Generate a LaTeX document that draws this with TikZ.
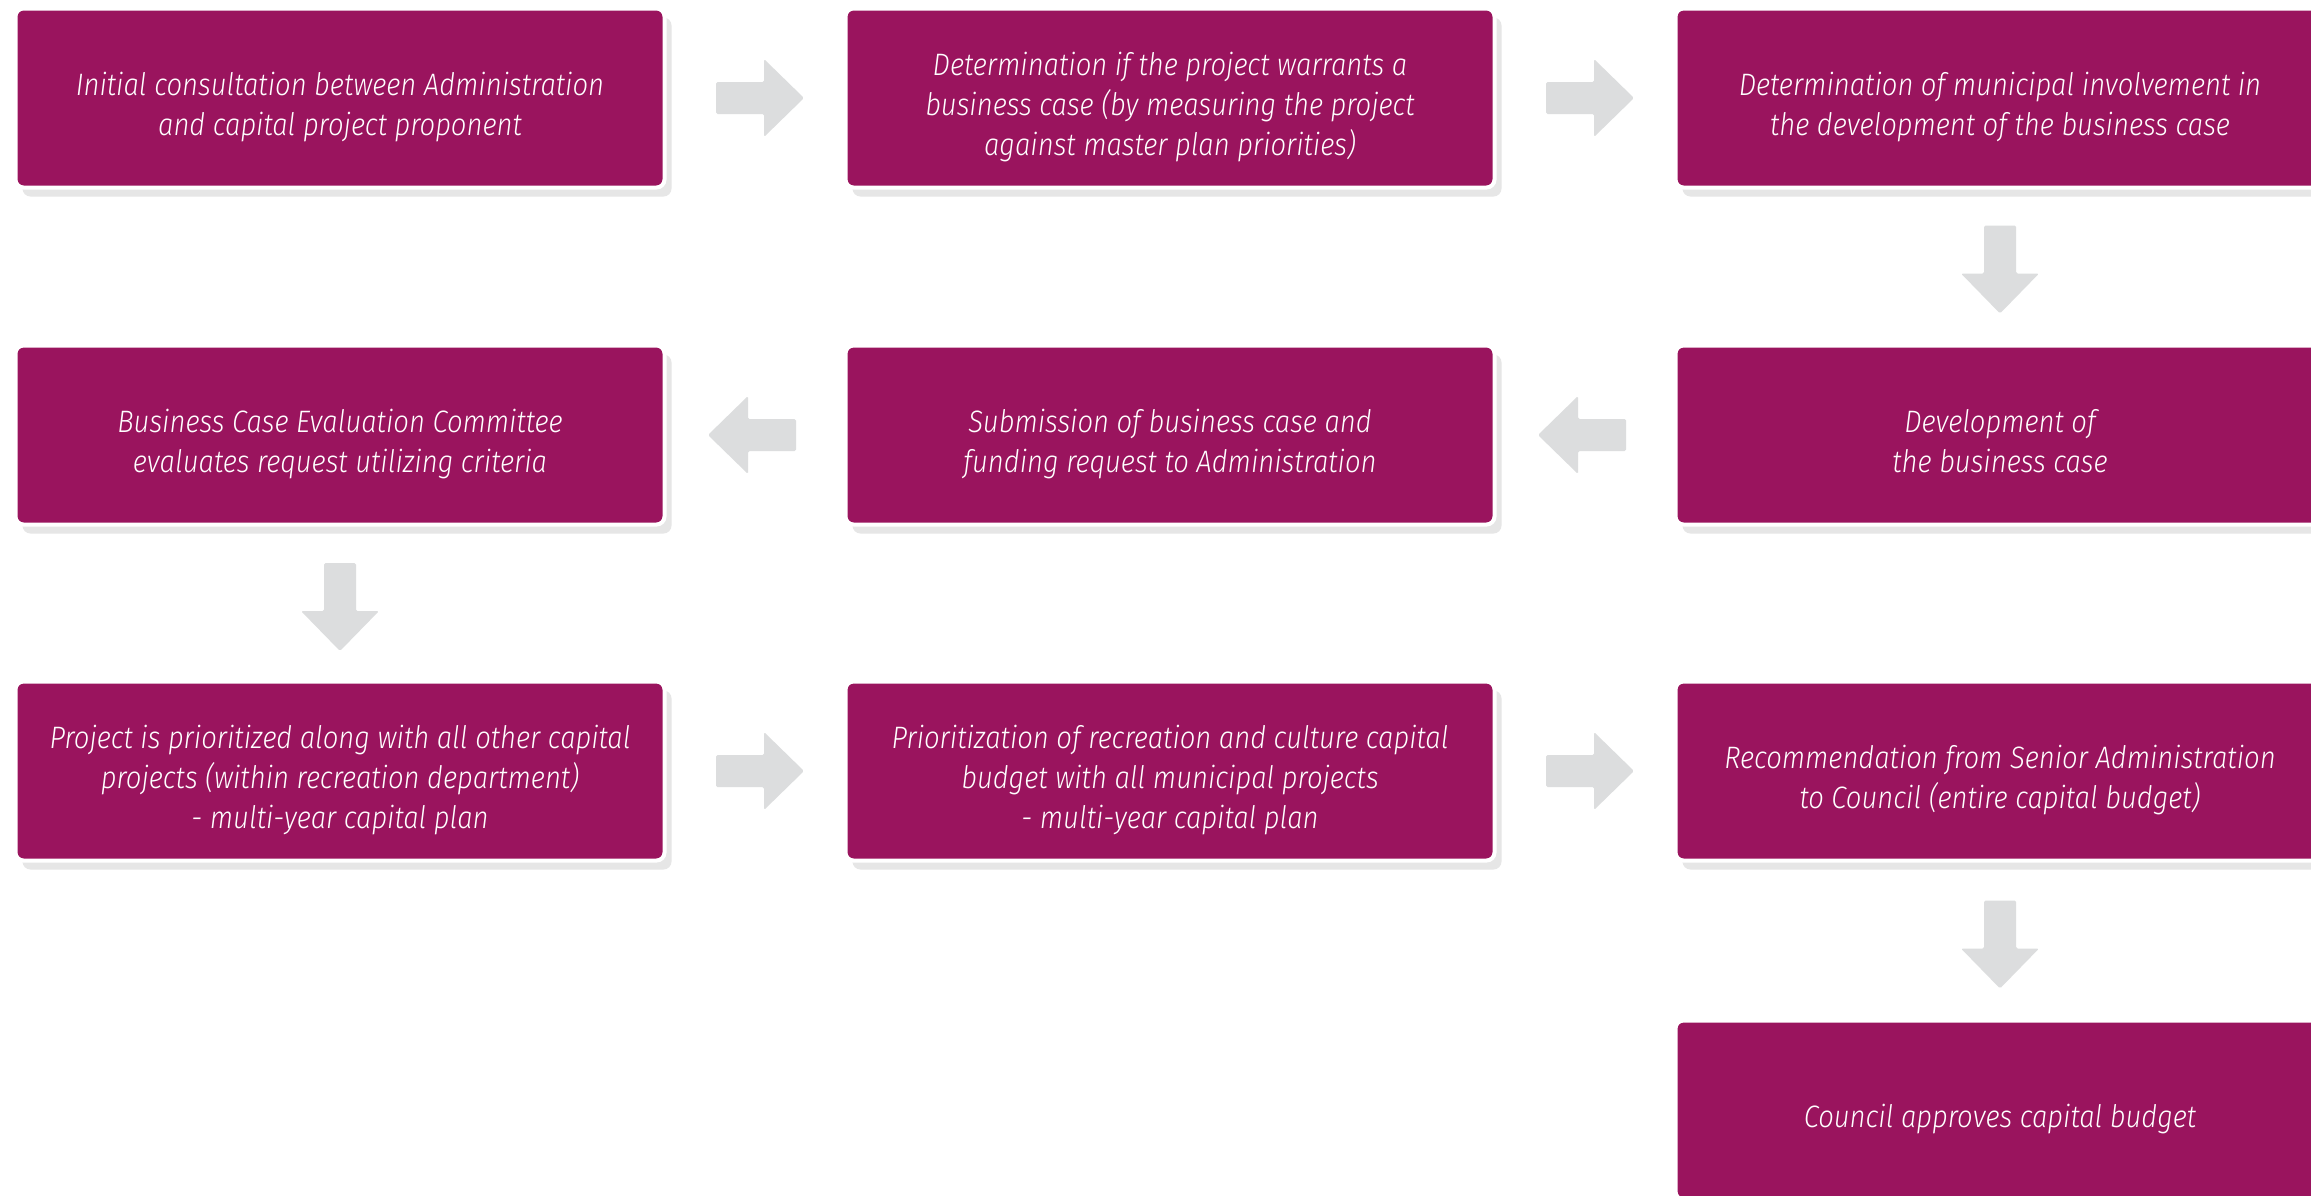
\documentclass[tikz,border=0pt]{standalone}
\usepackage{fontspec}
\setmainfont{Fira Sans}[UprightFont={* Light}, ItalicFont={* Light Italic}, FakeStretch=0.885]
\usetikzlibrary{calc,shadows}
\definecolor{boxpurple}{HTML}{9A145E}
\definecolor{arrowgray}{HTML}{DCDDDE}
\definecolor{shadowgray}{HTML}{E6E6E6}
\newcommand\boxtext[1]{\raisebox{-9pt}[\height][\depth]{\begin{tabular}{@{}c@{}}#1\end{tabular}}}
\tikzset{
  stepbox/.style={rectangle, rounded corners=8pt, fill=boxpurple, draw=white,
    line width=4pt, minimum width=649pt, minimum height=179pt, inner sep=0pt,
    text=white, font=\fontsize{31}{40}\selectfont\itshape,
    general shadow={fill=shadowgray, shadow xshift=7pt, shadow yshift=-9pt}},
  arrowright/.pic={\fill[arrowgray, rounded corners=1.5pt] (-44,-16) -- (4,-16) -- (4,-39) -- (44,0) -- (4,39) -- (4,16) -- (-44,16) -- cycle;},
  arrowleft/.pic={\fill[arrowgray, rounded corners=1.5pt] (44,-16) -- (-4,-16) -- (-4,-39) -- (-44,0) -- (-4,39) -- (-4,16) -- (44,16) -- cycle;},
  arrowdown/.pic={\fill[arrowgray, rounded corners=1.5pt] (-16,-44) -- (-16,4) -- (-39,4) -- (0,44) -- (39,4) -- (16,4) -- (16,-44) -- cycle;}
}
\begin{document}
\begin{tikzpicture}[x=1pt,y=-1pt]
\useasboundingbox (0,0) rectangle (2311,1195);
\clip (0,0) rectangle (2311,1195);
\fill[white] (0,0) rectangle (2311,1195);
\node[stepbox] (b1) at (340,98) {\boxtext{Initial consultation between Administration\\and capital project proponent}};
\node[stepbox] (b2) at (1170,98) {\boxtext{Determination if the project warrants a\\business case (by measuring the project\\against master plan priorities)}};
\node[stepbox] (b3) at (2000,98) {\boxtext{Determination of municipal involvement in\\the development of the business case}};
\node[stepbox] (b4) at (2000,435) {\boxtext{Development of\\the business case}};
\node[stepbox] (b5) at (1170,435) {\boxtext{Submission of business case and\\funding request to Administration}};
\node[stepbox] (b6) at (340,435) {\boxtext{Business Case Evaluation Committee\\evaluates request utilizing criteria}};
\node[stepbox] (b7) at (340,771) {\boxtext{Project is prioritized along with all other capital\\projects (within recreation department)\\- multi-year capital plan}};
\node[stepbox] (b8) at (1170,771) {\boxtext{Prioritization of recreation and culture capital\\budget with all municipal projects\\- multi-year capital plan}};
\node[stepbox] (b9) at (2000,771) {\boxtext{Recommendation from Senior Administration\\to Council (entire capital budget)}};
\node[stepbox] (b10) at (2000,1110) {\boxtext{Council approves capital budget}};
\path ($(b1.east)!0.5!(b2.west)+(5,0)$) pic {arrowright};
\path ($(b2.east)!0.5!(b3.west)+(5,0)$) pic {arrowright};
\path ($(b3.south)!0.5!(b4.north)+(0,3)$) pic {arrowdown};
\path ($(b4.west)!0.5!(b5.east)+(-3,0)$) pic {arrowleft};
\path ($(b5.west)!0.5!(b6.east)+(-3,0)$) pic {arrowleft};
\path ($(b6.south)!0.5!(b7.north)+(0,4)$) pic {arrowdown};
\path ($(b7.east)!0.5!(b8.west)+(5,0)$) pic {arrowright};
\path ($(b8.east)!0.5!(b9.west)+(5,0)$) pic {arrowright};
\path ($(b9.south)!0.5!(b10.north)+(0,4)$) pic {arrowdown};
\end{tikzpicture}
\end{document}
